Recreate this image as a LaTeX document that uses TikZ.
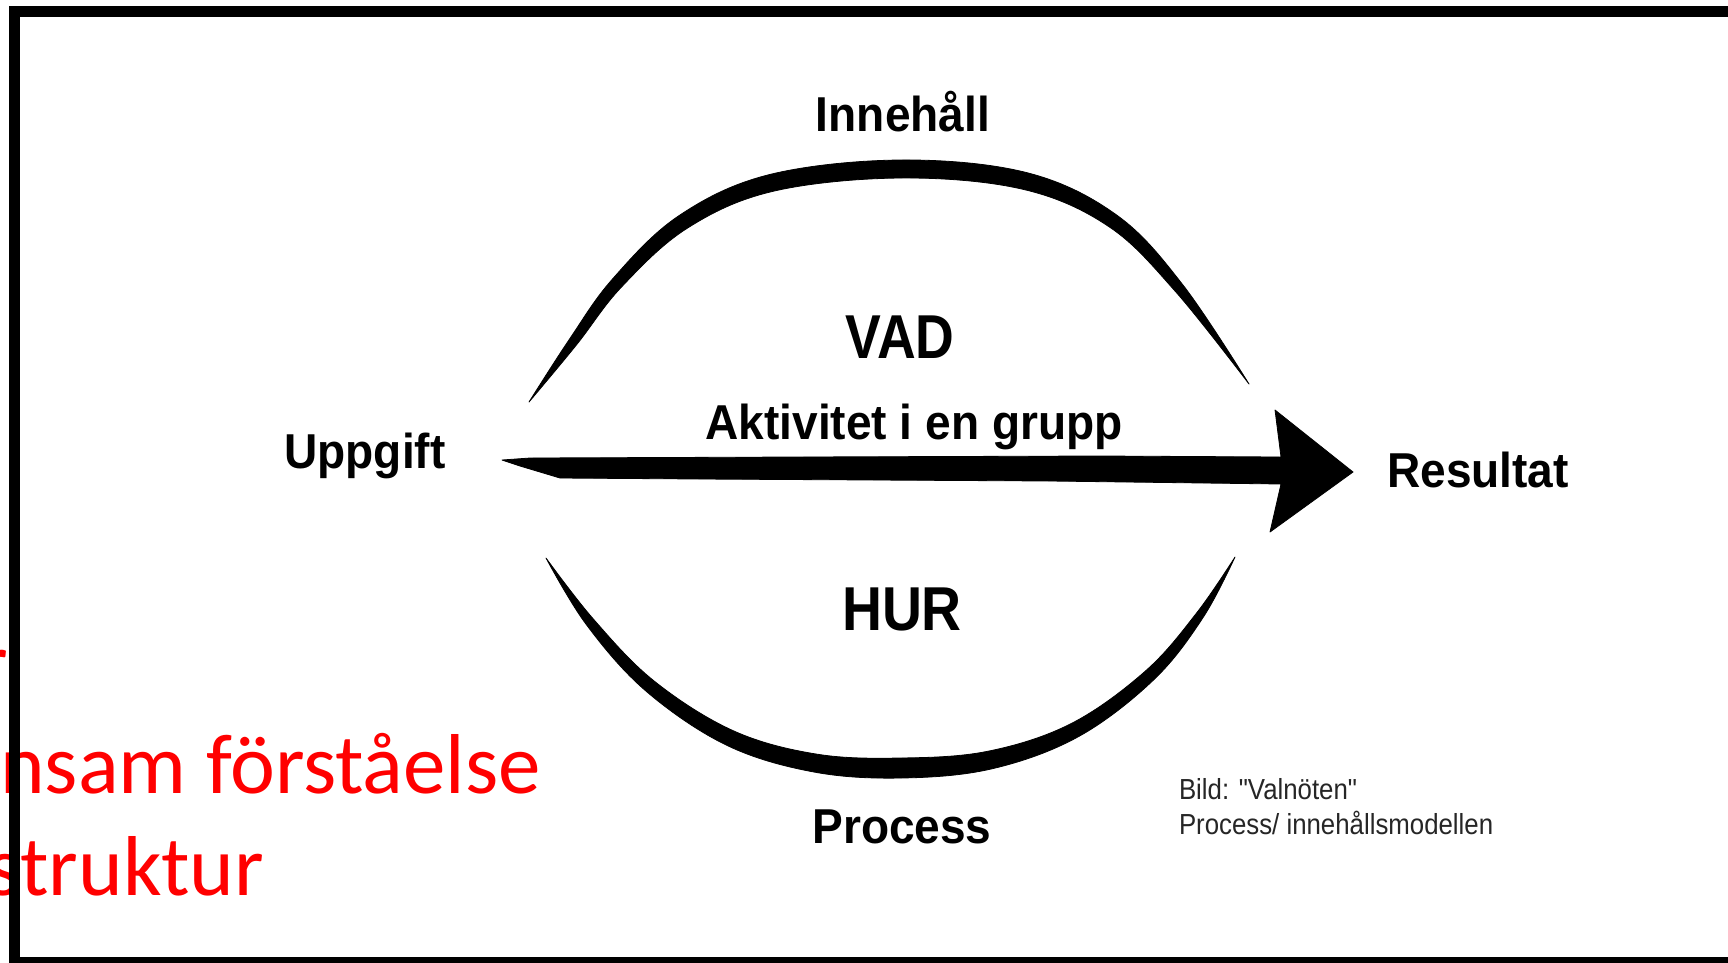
\documentclass[tikz,border=0pt]{standalone}
\usepackage{fontspec}
\usepackage{graphicx}
\newfontfamily\diafont[FakeStretch=0.94]{Liberation Sans}
\newfontfamily\capfont[FakeStretch=0.89]{Liberation Sans}
\newfontfamily\redfont{Carlito}
\tikzset{
  lbl/.style={inner sep=0pt, outer sep=0pt, anchor=base, font=\diafont\bfseries\fontsize{49}{58}\selectfont, text=black},
  biglbl/.style={inner sep=0pt, outer sep=0pt, anchor=base, font=\diafont\bfseries\fontsize{62}{72}\selectfont, text=black},
  caplbl/.style={inner sep=0pt, outer sep=0pt, anchor=base west, font=\capfont\fontsize{29}{34}\selectfont, text=black!85},
  redlbl/.style={inner sep=0pt, outer sep=0pt, anchor=base east, font=\redfont\fontsize{85}{102}\selectfont, text=red},
  brush/.style={fill=black, draw=black, line width=0.8pt, line join=round}
}
\begin{document}
\begin{tikzpicture}[x=1pt,y=-1pt]
\useasboundingbox (0,0) rectangle (1728,962);
\fill[white] (0,0) rectangle (1728,962);
\clip (0,0) rectangle (1728,962);

% red text (partly cut off at the left edge)
\node[redlbl] (r0) at (8,691) {r};
\node[redlbl] (r1) at (541,793) {nsam förståelse};
\node[redlbl] (r2) at (264,895) {struktur};

% frame
\draw[line width=10.5pt] (14.5,11.5) rectangle (1745,962.5);

% labels
\node[lbl] (inne) at (903,131) {Innehåll};
\node[biglbl] (vad) at (900,358) {\scalebox{0.92}[1]{VAD}};
\node[lbl] (akt) at (914,439) {Aktivitet i en grupp};
\node[lbl] (upp) at (365,468) {Uppgift};
\node[lbl] (res) at (1478,487) {Resultat};
\node[biglbl] (hur) at (902,630) {\scalebox{0.95}[1]{HUR}};
\node[lbl] (proc) at (902,843) {Process};
\node[caplbl] (cap1) at (1179,799) {Bild: "Valnöten"};
\node[caplbl] (cap2) at (1179,834) {Process/ innehållsmodellen};

% upper arc (brush stroke)
\coordinate (ua) at (529,402);
\coordinate (ub) at (1249,384);
\fill[brush] (ua) -- plot[smooth, tension=0.6] coordinates {(529,402) (569.4,339.3) (612.6,278.9) (678.9,215.7) (769,174.7) (901,160) (1027,172.7) (1117,215.3) (1182.8,284.8) (1249,384)}
  -- plot[smooth, tension=0.6] coordinates {(1249,384) (1175.2,291.2) (1109,226.7) (1023,189.3) (901,178) (773,191.3) (687.1,228.3) (621.4,287.1) (576.6,344.7) (529,402)} -- cycle;

% lower arc (brush stroke)
\coordinate (la) at (546,558);
\coordinate (lb) at (1235,557);
\fill[brush] (la) -- plot[smooth, tension=0.6] coordinates {(546,558) (586.5,624.8) (645.9,691) (726.6,745.2) (813.4,771.9) (901,778) (991.9,768.8) (1078.5,736.6) (1154.1,679.4) (1203.2,617.3) (1235,557)}
  -- plot[smooth, tension=0.6] coordinates {(1235,557) (1196.8,612.7) (1145.9,670.6) (1071.5,723.4) (988.1,751.2) (901,758) (816.6,754.1) (733.4,730.8) (654.1,681) (593.5,619.2) (546,558)} -- cycle;

% main arrow from Uppgift to Resultat
\coordinate (tail) at (502,460);
\coordinate (tip) at (1353,472);
\fill[brush] (tail) -- (530,458) -- (800,457) -- (1100,456) -- (1281,457) -- (1275,410) -- (tip) -- (1270,532) -- (1281,484) -- (1050,481) -- (700,479) -- (560,478) -- (520,466) -- cycle;
\end{tikzpicture}
\end{document}
